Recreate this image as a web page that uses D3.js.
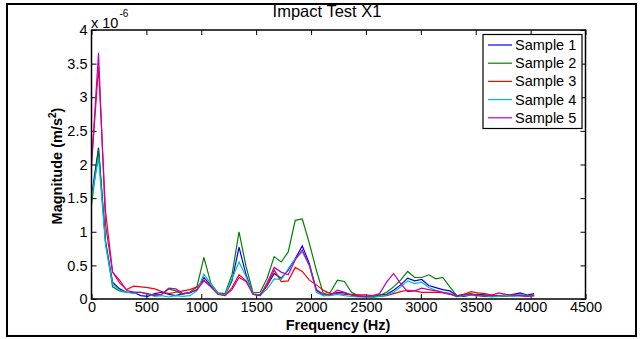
<!DOCTYPE html>
<html>
<head>
<meta charset="utf-8">
<script src="https://cdn.jsdelivr.net/npm/d3@7"></script>
<style>
body { margin: 0; background: #fff; }
text { font-family: Arial, "Liberation Sans", sans-serif; fill: #000; }
</style>
</head>
<body>
<svg width="641" height="339"></svg>
<script>
var freq = [0, 64, 128, 192, 256, 320, 384, 448, 512, 576, 640, 704, 768, 832, 896, 960,
    1024, 1088, 1152, 1216, 1280, 1344, 1408, 1472, 1536, 1600, 1664, 1728, 1792, 1856, 1920, 1984,
    2048, 2112, 2176, 2240, 2304, 2368, 2432, 2496, 2560, 2624, 2688, 2752, 2816, 2880, 2944, 3008,
    3072, 3136, 3200, 3264, 3328, 3392, 3456, 3520, 3584, 3648, 3712, 3776, 3840, 3904, 3968, 4032]

// magnitudes in units of 1e-6 m/s^2
var sample1 = [1.52, 2.25, 0.85, 0.25, 0.15, 0.10, 0.10, 0.05, 0.04, 0.08, 0.10, 0.07, 0.05, 0.08, 0.09, 0.14,
    0.32, 0.20, 0.08, 0.06, 0.27, 0.77, 0.36, 0.07, 0.06, 0.20, 0.38, 0.31, 0.43, 0.60, 0.79, 0.53,
    0.13, 0.05, 0.06, 0.10, 0.09, 0.06, 0.04, 0.03, 0.03, 0.06, 0.07, 0.13, 0.21, 0.31, 0.27, 0.29,
    0.20, 0.17, 0.14, 0.12, 0.05, 0.04, 0.06, 0.07, 0.06, 0.05, 0.04, 0.05, 0.07, 0.09, 0.06, 0.08]
var sample2 = [1.40, 2.22, 0.85, 0.18, 0.12, 0.10, 0.10, 0.10, 0.07, 0.06, 0.07, 0.15, 0.12, 0.07, 0.10, 0.18,
    0.62, 0.23, 0.09, 0.08, 0.36, 1.00, 0.48, 0.09, 0.10, 0.31, 0.63, 0.55, 0.70, 1.17, 1.19, 0.83,
    0.43, 0.08, 0.10, 0.28, 0.26, 0.10, 0.05, 0.04, 0.03, 0.05, 0.10, 0.18, 0.28, 0.41, 0.32, 0.32,
    0.36, 0.30, 0.32, 0.18, 0.05, 0.07, 0.08, 0.06, 0.05, 0.04, 0.05, 0.06, 0.05, 0.06, 0.05, 0.06]
var sample3 = [2.00, 3.45, 1.30, 0.40, 0.24, 0.14, 0.19, 0.18, 0.17, 0.15, 0.11, 0.08, 0.10, 0.12, 0.14, 0.18,
    0.28, 0.18, 0.08, 0.05, 0.17, 0.36, 0.27, 0.07, 0.05, 0.20, 0.43, 0.26, 0.27, 0.47, 0.41, 0.28,
    0.21, 0.13, 0.08, 0.08, 0.07, 0.07, 0.06, 0.06, 0.05, 0.04, 0.05, 0.08, 0.11, 0.13, 0.12, 0.10,
    0.10, 0.10, 0.09, 0.07, 0.04, 0.07, 0.11, 0.09, 0.08, 0.06, 0.05, 0.04, 0.05, 0.05, 0.04, 0.05]
var sample4 = [1.50, 2.10, 0.80, 0.22, 0.13, 0.10, 0.08, 0.10, 0.07, 0.04, 0.05, 0.03, 0.05, 0.04, 0.05, 0.12,
    0.37, 0.22, 0.08, 0.06, 0.30, 0.55, 0.33, 0.07, 0.05, 0.15, 0.30, 0.29, 0.45, 0.60, 0.70, 0.50,
    0.10, 0.05, 0.05, 0.07, 0.05, 0.04, 0.03, 0.03, 0.02, 0.04, 0.06, 0.10, 0.18, 0.27, 0.23, 0.25,
    0.17, 0.13, 0.10, 0.08, 0.03, 0.05, 0.06, 0.05, 0.04, 0.03, 0.04, 0.05, 0.04, 0.05, 0.04, 0.05]
var sample5 = [2.00, 3.66, 1.10, 0.40, 0.28, 0.13, 0.10, 0.10, 0.08, 0.05, 0.07, 0.16, 0.15, 0.08, 0.10, 0.13,
    0.27, 0.18, 0.07, 0.05, 0.14, 0.32, 0.26, 0.07, 0.05, 0.24, 0.47, 0.40, 0.36, 0.58, 0.73, 0.50,
    0.14, 0.07, 0.06, 0.13, 0.10, 0.06, 0.04, 0.04, 0.05, 0.08, 0.25, 0.38, 0.23, 0.11, 0.12, 0.16,
    0.14, 0.12, 0.10, 0.08, 0.04, 0.06, 0.07, 0.05, 0.04, 0.06, 0.09, 0.07, 0.06, 0.05, 0.04, 0.05]

var names = ['Sample 1', 'Sample 2', 'Sample 3', 'Sample 4', 'Sample 5']
var colors = ['#0000ff', '#008000', '#ff0000', '#00bfbf', '#bf00bf']
var xTicks = [0, 500, 1000, 1500, 2000, 2500, 3000, 3500, 4000, 4500]
var yTicks = [0, 0.5, 1, 1.5, 2, 2.5, 3, 3.5, 4]

var series = [sample1, sample2, sample3, sample4, sample5]

var svg = d3.select('svg')

// outer frame
svg.append('rect')
    .attr('x', 7).attr('y', 4)
    .attr('width', 629).attr('height', 332)
    .attr('fill', 'none').attr('stroke', '#000').attr('stroke-width', 2)

var plotL = 91.5, plotR = 585.5, plotT = 30, plotB = 299

var x = d3.scaleLinear().domain([0, 4500]).range([plotL, plotR])
var y = d3.scaleLinear().domain([0, 4]).range([plotB, plotT])

function fmt(d) { return String(d) }

svg.append('g')
    .attr('transform', 'translate(0,' + plotB + ')')
    .call(d3.axisBottom(x).tickValues(xTicks).tickFormat(fmt).tickSizeInner(-5).tickSizeOuter(0).tickPadding(3))
svg.append('g')
    .attr('transform', 'translate(0,' + plotT + ')')
    .call(d3.axisTop(x).tickValues(xTicks).tickFormat('').tickSizeInner(-5).tickSizeOuter(0))
svg.append('g')
    .attr('transform', 'translate(' + plotL + ',0)')
    .call(d3.axisLeft(y).tickValues(yTicks).tickFormat(fmt).tickSizeInner(-5).tickSizeOuter(0).tickPadding(4))
svg.append('g')
    .attr('transform', 'translate(' + plotR + ',0)')
    .call(d3.axisRight(y).tickValues(yTicks).tickFormat('').tickSizeInner(-5).tickSizeOuter(0))

svg.selectAll('.domain').remove()
svg.selectAll('.tick line').attr('stroke', '#000')
svg.selectAll('.tick text').style('font-size', '14.5px').attr('fill', '#000')

var line = d3.line()
    .x((d, i) => x(freq[i]))
    .y(d => y(d))

series.forEach((s, k) => {
    svg.append('path')
        .attr('d', line(s))
        .attr('fill', 'none')
        .attr('stroke', colors[k])
        .attr('stroke-width', 1.2)
        .attr('stroke-linejoin', 'miter')
})

// plot box
svg.append('rect')
    .attr('x', plotL).attr('y', plotT)
    .attr('width', plotR - plotL).attr('height', plotB - plotT)
    .attr('fill', 'none').attr('stroke', '#000').attr('stroke-width', 1.5)

// exponent label
var ex = svg.append('text').attr('x', 91).attr('y', 28).style('font-size', '14.5px')
ex.append('tspan').text('x 10')
ex.append('tspan').attr('dy', -11).attr('dx', 1).style('font-size', '10px').text('-6')

svg.append('text')
    .attr('x', 327).attr('y', 17)
    .attr('text-anchor', 'middle')
    .style('font-size', '16.5px')
    .text('Impact Test X1')

svg.append('text')
    .attr('x', 338).attr('y', 330)
    .attr('text-anchor', 'middle')
    .style('font-size', '14.5px').style('font-weight', 'bold')
    .text('Frequency (Hz)')

var yl = svg.append('text')
    .attr('transform', 'translate(62,166) rotate(-90)')
    .attr('text-anchor', 'middle')
    .style('font-size', '14.5px').style('font-weight', 'bold')
yl.append('tspan').text('Magnitude (m/s')
yl.append('tspan').attr('dy', -6).style('font-size', '10px').text('2')
yl.append('tspan').attr('dy', 6).text(')')

// legend
var lg = svg.append('g')
lg.append('rect')
    .attr('x', 483).attr('y', 34.5)
    .attr('width', 99).attr('height', 94)
    .attr('fill', '#fff').attr('stroke', '#000').attr('stroke-width', 1.2)
names.forEach((n, k) => {
    var ly = 45 + k * 18.2
    lg.append('line')
        .attr('x1', 488).attr('x2', 512)
        .attr('y1', ly).attr('y2', ly)
        .attr('stroke', colors[k]).attr('stroke-width', 1.2)
    lg.append('text')
        .attr('x', 515).attr('y', ly + 5)
        .style('font-size', '14.5px')
        .text(n)
})
</script>
</body>
</html>
